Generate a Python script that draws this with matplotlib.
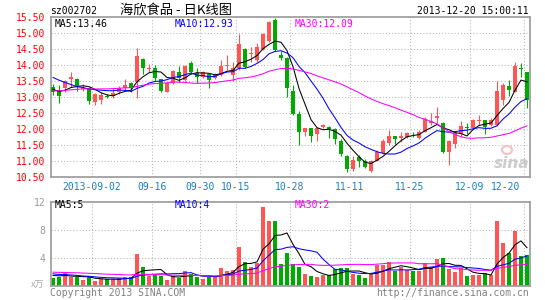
"""Daily K-line chart for sz002702 with volume panel."""

import matplotlib

matplotlib.use("Agg")
import matplotlib.pyplot as plt  # noqa: E402
import matplotlib.transforms as mtransforms  # noqa: E402
from matplotlib.patches import Ellipse  # noqa: E402
import numpy as np  # noqa: E402
import pandas as pd  # noqa: E402

W, H = 545, 300

# 80 daily sessions, oldest first
opens = [13.33, 13.23, 13.28, 13.58, 13.57, 13.25, 13.28, 12.85, 12.93, 13.05,
         13.05, 13.17, 13.28, 13.45, 13.49, 14.20, 13.88, 13.93, 13.56, 13.18,
         13.46, 13.78, 13.54, 14.08, 13.75, 13.64, 13.72, 13.60, 13.70, 13.98,
         13.70, 13.91, 14.51, 14.36, 14.17, 14.51, 14.77, 15.42, 14.32, 14.22,
         13.20, 12.47, 11.93, 12.03, 11.85, 12.08, 12.07, 12.01, 11.64, 11.18,
         10.76, 11.15, 11.02, 10.71, 11.02, 11.26, 11.56, 11.79, 11.74, 11.77,
         11.86, 11.74, 11.93, 12.19, 12.34, 12.20, 11.30, 11.53, 11.84, 12.08,
         12.05, 12.25, 12.29, 12.14, 12.14, 12.92, 13.36, 13.18, 13.90, 13.78]
closes = [13.17, 13.05, 13.51, 13.62, 13.33, 13.30, 12.90, 13.10, 13.08, 13.00,
          13.14, 13.30, 13.40, 13.28, 14.30, 13.93, 13.92, 13.60, 13.20, 13.44,
          13.82, 13.59, 13.99, 13.80, 13.64, 13.78, 13.54, 13.74, 13.99, 14.02,
          13.91, 14.67, 13.96, 14.40, 14.58, 14.98, 15.34, 14.48, 14.22, 13.28,
          12.47, 11.93, 12.03, 11.80, 12.03, 12.14, 12.01, 11.69, 11.22, 10.76,
          11.04, 11.01, 10.83, 11.01, 11.28, 11.64, 11.79, 11.70, 11.80, 11.90,
          11.84, 11.93, 12.31, 12.26, 12.42, 11.30, 11.64, 11.87, 12.10, 12.05,
          12.29, 12.28, 12.08, 12.29, 13.20, 13.39, 13.23, 13.99, 13.88, 12.92]
highs = [13.40, 13.38, 13.55, 13.78, 13.61, 13.40, 13.33, 13.12, 13.15, 13.10,
         13.30, 13.35, 13.58, 13.48, 14.53, 14.22, 14.03, 14.00, 13.58, 13.48,
         13.84, 13.99, 14.00, 14.12, 13.91, 13.82, 13.76, 13.77, 14.17, 14.32,
         14.10, 14.98, 14.53, 14.58, 14.69, 15.00, 15.38, 15.47, 14.45, 14.25,
         13.39, 12.57, 12.05, 12.05, 12.05, 12.17, 12.09, 12.03, 11.70, 11.20,
         11.15, 11.20, 11.07, 11.03, 11.35, 11.70, 11.98, 11.80, 11.90, 11.93,
         11.93, 11.97, 12.37, 12.50, 12.71, 12.22, 11.67, 11.90, 12.26, 12.20,
         12.32, 12.45, 12.30, 12.35, 13.51, 13.44, 13.54, 14.11, 14.06, 13.78]
lows = [13.08, 12.83, 13.18, 13.33, 13.20, 13.20, 12.80, 12.77, 12.80, 12.98,
        12.98, 13.10, 13.22, 13.18, 12.98, 13.72, 13.78, 13.50, 13.16, 13.15,
        13.40, 13.49, 13.50, 13.72, 13.44, 13.60, 13.28, 13.56, 13.66, 13.85,
        13.52, 13.85, 13.93, 14.11, 14.11, 14.48, 14.74, 14.45, 14.17, 13.02,
        12.45, 11.51, 11.80, 11.60, 11.63, 12.05, 11.72, 11.55, 11.15, 10.65,
        10.71, 10.83, 10.78, 10.68, 11.00, 11.24, 11.52, 11.53, 11.59, 11.72,
        11.75, 11.70, 11.90, 12.14, 12.19, 11.25, 10.87, 11.41, 11.77, 11.85,
        12.03, 12.14, 11.85, 12.10, 12.10, 12.76, 13.05, 13.15, 13.62, 12.66]
volumes = [1.14, 1.29, 1.76, 1.29, 1.29, 0.86, 1.24, 0.71, 0.90, 0.95,
           0.95, 1.05, 1.24, 1.19, 4.57, 2.69, 1.43, 1.57, 1.38, 0.81,
           1.33, 1.17, 2.14, 1.67, 1.24, 0.95, 1.29, 1.29, 2.57, 2.14,
           2.24, 5.55, 3.35, 2.75, 3.25, 11.38, 9.38, 9.38, 3.10, 4.70,
           3.19, 2.71, 1.67, 1.38, 1.29, 1.52, 1.52, 2.38, 2.52, 2.48,
           1.67, 1.52, 1.14, 1.62, 3.05, 3.05, 3.43, 2.14, 2.71, 2.33,
           2.14, 2.14, 3.24, 2.62, 3.80, 3.95, 2.38, 1.95, 2.52, 1.38,
           1.48, 1.52, 1.76, 1.52, 9.29, 6.14, 4.70, 7.84, 4.27, 4.40]

# sessions before the window (not drawn), estimated from where the averages start
prior_closes = [12.95, 13.05, 13.10, 12.90, 12.85, 13.00, 13.10, 13.05, 12.95, 12.90,
                12.95, 13.05, 13.10, 13.00, 12.90, 12.95, 13.00, 13.05, 12.95, 12.95,
                13.90, 14.20, 14.30, 14.00, 13.55, 13.40, 13.30, 13.20, 13.18]
prior_volumes = [2.3, 1.9, 2.5, 1.8, 2.0, 2.2, 1.7, 2.4, 2.1, 1.9,
                 2.0, 2.3, 1.8, 2.2, 2.0, 1.9, 2.1, 2.2, 2.0, 2.1,
                 2.2, 1.8, 2.0, 1.9, 1.8, 1.6, 1.5, 1.7, 1.46]

date_labels = ["2013-09-02", "09-16", "09-30", "10-15", "10-28",
               "11-11", "11-25", "12-09", "12-20"]
date_index = [7, 17, 25, 31, 40, 50, 60, 70, 79]

price_ticks = [10.5, 11.0, 11.5, 12.0, 12.5, 13.0, 13.5, 14.0, 14.5, 15.0, 15.5]
volume_ticks = [4, 8, 12]

ma_windows = [5, 10, 30]
ma_colors = ["#000000", "#0000ff", "#ff00ff"]
price_ma_text = ["MA5:13.46", "MA10:12.93", "MA30:12.09"]
volume_ma_text = ["MA5:5", "MA10:4", "MA30:2"]

RED = "#ff5555"
GREEN = "#00aa00"
GRID = "#b4b4b4"
FRAME = "#a0a0a0"
MONO = "DejaVu Sans Mono"
CJK = ["Noto Sans CJK SC", "DejaVu Sans"]


def fx(px):
    return px / W


def fy(py):
    return 1 - py / H


def moving_averages(prior, values):
    series = pd.Series(list(prior) + list(values))
    return [series.rolling(w).mean().to_numpy()[len(prior):] for w in ma_windows]


o = np.array(opens)
c = np.array(closes)
hi = np.array(highs)
lo = np.array(lows)
vol = np.array(volumes)
n = len(c)
x = np.arange(n)
colors = np.where(c >= o, RED, GREEN)

fig = plt.figure(figsize=(W / 100, H / 100), dpi=100)
fig.patch.set_facecolor("white")

LEFT, RIGHT = 50.5, 529.5
ax_p = fig.add_axes([fx(LEFT), fy(177.3), fx(RIGHT) - fx(LEFT), fy(17.3) - fy(177.3)])
ax_v = fig.add_axes([fx(LEFT), fy(285.7), fx(RIGHT) - fx(LEFT), fy(202.3) - fy(285.7)])

for ax in (ax_p, ax_v):
    ax.set_xlim(-0.42, n - 1 + 0.42)
    ax.set_xticks([])
    for spine in ax.spines.values():
        spine.set_color(FRAME)
        spine.set_linewidth(1.3)
    for idx in date_index:
        ax.axvline(idx - 0.5, color=GRID, lw=0.75, ls=(0, (1, 2)), zorder=0)

# price panel
ax_p.set_ylim(price_ticks[0], price_ticks[-1])
for t in price_ticks[1:-1]:
    ax_p.axhline(t, color=GRID, lw=0.75, ls=(0, (1, 2)), zorder=0)

# sina watermark, behind the candles
fig.text(fx(512), fy(164), "sina", fontsize=11, style="italic", weight="bold",
         color="#cccccc", ha="center", va="center")
fig.patches.append(Ellipse((fx(507), fy(150)), 10 / W, 8 / H, transform=fig.transFigure,
                           facecolor="none", edgecolor="#f4c4c4", lw=1.6))

ax_p.vlines(x, lo, hi, colors=colors, lw=0.8, zorder=2)
body_low = np.minimum(o, c)
body_h = np.maximum(np.abs(c - o), 0.025)
ax_p.bar(x, body_h, bottom=body_low, width=0.72, color=colors, edgecolor="none", zorder=3)
for ma, col in zip(moving_averages(prior_closes, closes), ma_colors):
    ax_p.plot(x, ma, color=col, lw=0.75, zorder=4)
ax_p.set_yticks(price_ticks)
ax_p.set_yticklabels([f"{t:.2f}" for t in price_ticks], color="#ff0000",
                     fontsize=7, family=MONO)
ax_p.tick_params(axis="y", length=0, pad=3.5)

# volume panel
ax_v.set_ylim(0, 12)
for t in volume_ticks[:-1]:
    ax_v.axhline(t, color=GRID, lw=0.75, ls=(0, (1, 2)), zorder=0)
ax_v.bar(x, vol, width=0.76, color=colors, edgecolor="none", zorder=2)
for ma, col in zip(moving_averages(prior_volumes, volumes), ma_colors):
    ax_v.plot(x, ma, color=col, lw=0.75, zorder=4)
ax_v.set_yticks(volume_ticks)
ax_v.set_yticklabels([str(t) for t in volume_ticks], color="#999999",
                     fontsize=7, family=MONO)
ax_v.tick_params(axis="y", length=0, pad=3.5)

# date labels between the panels
date_tr = mtransforms.blended_transform_factory(ax_p.transData, fig.transFigure)
for i, (idx, label) in enumerate(zip(date_index, date_labels)):
    if i == len(date_labels) - 1:
        ax_p.text(n - 1 + 0.42 - 1.5, fy(187), label, transform=date_tr, ha="right",
                  va="center", fontsize=7, family=MONO, color="#1580c8")
    else:
        ax_p.text(idx - 0.5, fy(187), label, transform=date_tr, ha="center",
                  va="center", fontsize=7, family=MONO, color="#1580c8")

# header
fig.text(fx(50), fy(11), "sz002702", fontsize=7, family=MONO, va="center", ha="left")
fig.text(fx(120), fy(10), "海欣食品 - 日K线图", fontsize=9.5, family=CJK,
         va="center", ha="left")
fig.text(fx(529), fy(11), "2013-12-20 15:00:11", fontsize=7, family=MONO,
         va="center", ha="right")

for xpos, text, col in zip([55, 175, 295], price_ma_text, ma_colors):
    fig.text(fx(xpos), fy(24), text, fontsize=7, family=MONO, color=col, va="center")
for xpos, text, col in zip([55, 175, 295], volume_ma_text, ma_colors):
    fig.text(fx(xpos), fy(205.5), text, fontsize=7, family=MONO, color=col, va="center")

# footer
fig.text(fx(44), fy(285.5), "x万", fontsize=6.5, family=CJK, color="#aaaaaa",
         ha="right", va="center")
fig.text(fx(50), fy(292.5), "Copyright 2013 SINA.COM", fontsize=7, family=MONO,
         color="#808080", ha="left", va="center")
fig.text(fx(529), fy(292.5), "http://finance.sina.com.cn", fontsize=7, family=MONO,
         color="#808080", ha="right", va="center")

fig.savefig("out.png", dpi=100, facecolor="white")
